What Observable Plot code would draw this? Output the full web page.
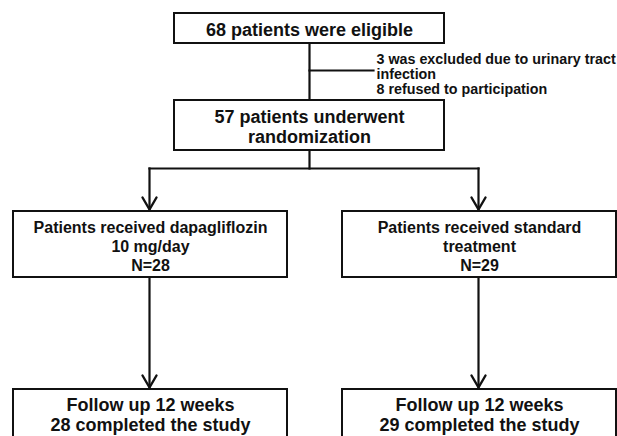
<!DOCTYPE html>
<html><head><meta charset="utf-8">
<script src="https://cdn.jsdelivr.net/npm/d3@7"></script>
<script src="https://cdn.jsdelivr.net/npm/@observablehq/plot@0.6"></script>
<style>html,body{margin:0;padding:0;background:#fff}</style>
</head><body><div id="chart"></div>
<script>
// ---- data ----
const eligible = 68;
const excludedCounts = [3, 8];
const excludedReasons = ["was excluded due to urinary tract\ninfection", "refused to participation"];
const randomized = 57;
const armLabels = ["Patients received dapagliflozin\n10 mg/day", "Patients received standard\ntreatment"];
const armN = [28, 29];
const followUpWeeks = 12;
const completed = [28, 29];

// ---- layout (pixel space) ----
const topBoxes = [
  {x1: 174, x2: 444, y1: 13, y2: 43, cy: 29, text: `${eligible} patients were eligible`},
  {x1: 174, x2: 444, y1: 100, y2: 150, cy: 126, text: `${randomized} patients underwent\nrandomization`}
];
const armCols = [{x1: 13, x2: 287}, {x1: 342, x2: 616}];
const armBoxes = armCols.map((c, i) => ({...c, y1: 211, y2: 277, cy: 245, text: `${armLabels[i]}\nN=${armN[i]}`}));
const followBoxes = armCols.map((c, i) => ({...c, y1: 389, y2: 470, cy: 414, text: `Follow up ${followUpWeeks} weeks\n${completed[i]} completed the study`}));
const exclusionText = [{x: 376, y: 73.5, text: excludedCounts.map((n, i) => `${n} ${excludedReasons[i]}`).join("\n")}];

const cx = d => (d.x1 + d.x2) / 2;
const mainX = cx(topBoxes[0]);
const armX = armCols.map(c => Math.round(cx(c)) - 1);
const splitY = 168;

const connectors = [
  {x1: mainX, y1: 43, x2: mainX, y2: 100},
  {x1: mainX, y1: 70, x2: 373, y2: 70},
  {x1: mainX, y1: 150, x2: mainX, y2: splitY},
  {x1: armX[0], y1: splitY, x2: armX[1], y2: splitY},
  ...armX.map(x => ({x1: x, y1: splitY, x2: x, y2: 209})),
  ...armX.map(x => ({x1: x, y1: 277, x2: x, y2: 387}))
];
const arrowTips = [...armX.map(x => ({x, y: 209})), ...armX.map(x => ({x, y: 387}))];
const arrowHeads = arrowTips.flatMap((t, i) => [
  {g: i, x: t.x - 7, y: t.y - 12},
  {g: i, x: t.x, y: t.y},
  {g: i, x: t.x + 7, y: t.y - 12}
]);

const font = "'Liberation Sans', Arial, Helvetica, sans-serif";
const ink = "#111";

const chart = Plot.plot({
  width: 617,
  height: 436,
  margin: 0,
  x: {domain: [0, 617], range: [0, 617], axis: null},
  y: {domain: [0, 436], range: [0, 436], axis: null},
  style: {fontFamily: font, background: "#fff"},
  marks: [
    Plot.link(connectors, {x1: "x1", y1: "y1", x2: "x2", y2: "y2", stroke: ink, strokeWidth: 2.2, strokeLinecap: "square"}),
    Plot.line(arrowHeads, {x: "x", y: "y", z: "g", stroke: ink, strokeWidth: 2.4, strokeLinejoin: "miter", curve: "linear"}),
    Plot.rect([...topBoxes, ...armBoxes, ...followBoxes], {x1: "x1", x2: "x2", y1: "y1", y2: "y2", fill: "#fff", stroke: ink, strokeWidth: 2}),
    Plot.text(topBoxes, {x: cx, y: "cy", text: "text", fontSize: 18, fontWeight: "bold", fill: ink, lineHeight: 1.11}),
    Plot.text(armBoxes, {x: cx, y: "cy", text: "text", fontSize: 16, fontWeight: "bold", fill: ink, lineHeight: 1.19}),
    Plot.text(followBoxes, {x: cx, y: "cy", text: "text", fontSize: 18, fontWeight: "bold", fill: ink, lineHeight: 1.11}),
    Plot.text(exclusionText, {x: "x", y: "y", text: "text", textAnchor: "start", fontSize: 14.3, fontWeight: "bold", fill: ink, lineHeight: 1.05})
  ]
});
document.getElementById("chart").appendChild(chart);
</script>
</body></html>
